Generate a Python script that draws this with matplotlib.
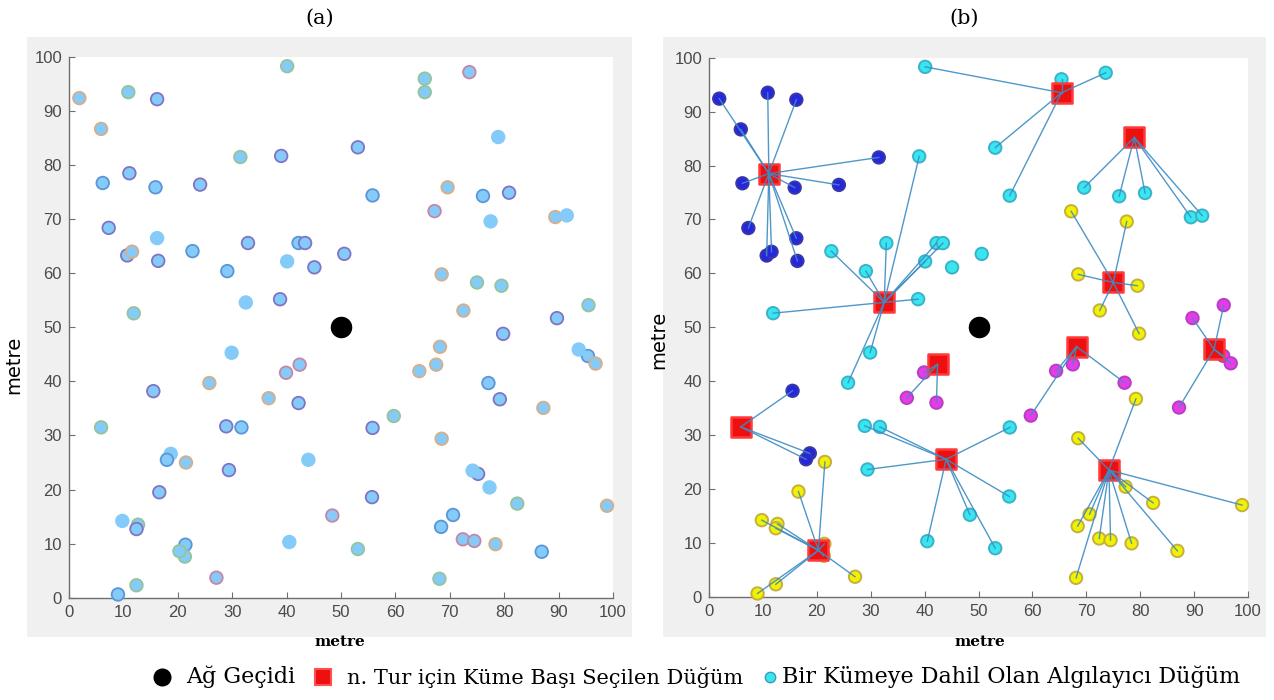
import matplotlib
matplotlib.use('Agg')
import matplotlib.pyplot as plt
from matplotlib.lines import Line2D
from matplotlib.patches import Rectangle

# kume baslari (cluster heads)
ch_x = [11.1, 32.5, 65.4, 78.9, 75.0, 68.2, 93.7, 42.4, 5.9, 20.3, 44.0, 74.2]
ch_y = [78.5, 54.6, 93.5, 85.2, 58.3, 46.4, 45.9, 43.1, 31.5, 8.6, 25.5, 23.5]
ch_grp = ['blue', 'cyan', 'cyan', 'cyan', 'yellow', 'magenta', 'magenta', 'magenta',
          'blue', 'yellow', 'cyan', 'yellow']
ch_edge_a = ['P', 'L', 'G', 'L', 'G', 'O', 'L', 'K', 'G', 'G', 'L', 'L']

# algilayici dugumler (member nodes), head index -1 = no link
mem_x = [1.9, 10.9, 16.2, 5.9, 31.5, 6.2, 15.9, 24.1, 7.3, 16.2, 10.7, 11.6, 16.4,
         39.0, 22.7, 32.9, 42.2, 43.4, 40.1, 29.1, 38.8, 11.9, 29.9, 25.8,
         40.1, 65.4, 73.6, 53.1, 55.8,
         69.6, 76.1, 80.9, 89.4, 91.5,
         67.2, 77.5, 68.5, 79.5, 72.5, 79.8,
         67.5, 64.4, 77.1, 59.7,
         95.4, 96.8, 87.2, 89.7, 95.5,
         39.9, 36.7, 42.2,
         15.5, 18.7, 18.0,
         21.5, 16.6, 9.8, 12.7, 12.4, 21.4, 21.3, 27.1, 12.4, 9.0,
         28.9, 31.7, 29.4, 40.5, 48.4, 53.1, 55.8, 55.7,
         68.5, 79.2, 75.2, 77.3, 82.4, 98.9, 70.6, 68.4, 72.4, 74.5, 78.4, 86.9, 68.1,
         45.1, 50.6]
mem_y = [92.4, 93.5, 92.2, 86.7, 81.5, 76.7, 75.9, 76.4, 68.4, 66.5, 63.3, 64.0, 62.3,
         81.7, 64.1, 65.6, 65.6, 65.6, 62.2, 60.4, 55.2, 52.6, 45.3, 39.7,
         98.3, 96.0, 97.2, 83.3, 74.4,
         75.9, 74.3, 74.9, 70.4, 70.7,
         71.5, 69.6, 59.8, 57.7, 53.1, 48.8,
         43.1, 41.9, 39.7, 33.6,
         44.7, 43.3, 35.1, 51.7, 54.1,
         41.6, 36.9, 36.0,
         38.2, 26.6, 25.5,
         25.0, 19.5, 14.2, 13.5, 12.7, 9.8, 7.6, 3.7, 2.3, 0.6,
         31.7, 31.5, 23.6, 10.3, 15.2, 9.0, 31.4, 18.6,
         29.4, 36.7, 22.9, 20.4, 17.4, 17.0, 15.3, 13.1, 10.8, 10.5, 9.9, 8.5, 3.5,
         61.1, 63.6]
mem_ch = [0] * 13 + [1] * 11 + [2] * 5 + [3] * 5 + [4] * 6 + [5] * 4 + [6] * 5 + \
         [7] * 3 + [8] * 3 + [9] * 10 + [10] * 8 + [11] * 13 + [-1, -1]
mem_edge_a = ['O', 'G', 'P', 'O', 'G', 'B', 'B', 'P', 'P', 'L', 'P', 'O', 'P',
              'P', 'B', 'P', 'B', 'P', 'L', 'B', 'P', 'G', 'L', 'O',
              'G', 'G', 'K', 'P', 'B',
              'O', 'B', 'P', 'O', 'L',
              'K', 'L', 'O', 'G', 'O', 'P',
              'O', 'O', 'B', 'G',
              'B', 'O', 'O', 'P', 'G',
              'K', 'O', 'P',
              'P', 'L', 'B',
              'O', 'P', 'L', 'G', 'P', 'B', 'G', 'K', 'G', 'B',
              'P', 'B', 'P', 'L', 'K', 'G', 'P', 'P',
              'O', 'P', 'P', 'L', 'G', 'O', 'B', 'B', 'K', 'K', 'O', 'B', 'G',
              'P', 'P']

gw_x, gw_y = [50.0], [50.0]

legend_labels = ['Ağ Geçidi', 'n. Tur için Küme Başı Seçilen Düğüm',
                 'Bir Kümeye Dahil Olan Algılayıcı Düğüm']

# renkler
face_a = '#84cbf9'
edge_a = {'P': '#8074c4', 'B': '#5a96d8', 'G': '#96c49a', 'O': '#d8ae88',
          'K': '#c886a6', 'L': '#84cbf9'}
grp_face = {'blue': '#2626dc', 'cyan': '#38e6f0', 'yellow': '#f2f200', 'magenta': '#e83be8'}
grp_edge = {'blue': '#3838a8', 'cyan': '#3cb2c8', 'yellow': '#c4b040', 'magenta': '#b440c4'}
line_col = '#3d8cc4'

W, H = 1274, 700
fig = plt.figure(figsize=(W / 100, H / 100), dpi=100)

# gri cerceveler
for x0, x1 in [(27, 632), (663, 1266)]:
    fig.add_artist(Rectangle((x0 / W, 1 - 637 / H), (x1 - x0) / W, 600 / H,
                             transform=fig.transFigure, facecolor='#f0f0f0',
                             edgecolor='none', zorder=0))

ax1 = fig.add_axes([69 / W, 1 - 597.7 / H, 544 / W, 540.7 / H])
ax2 = fig.add_axes([709 / W, 1 - 596.7 / H, 539 / W, 539 / H])

all_x = mem_x + ch_x
all_y = mem_y + ch_y
all_edge = [edge_a[e] for e in mem_edge_a + ch_edge_a]

# (a)
ax1.scatter(all_x, all_y, s=82, facecolors=face_a, edgecolors=all_edge,
            linewidths=1.3, zorder=3, clip_on=False)
ax1.scatter(gw_x, gw_y, s=210, color='black', zorder=4)

# (b)
for i in range(len(mem_x)):
    c = mem_ch[i]
    if c >= 0:
        ax2.plot([mem_x[i], ch_x[c]], [mem_y[i], ch_y[c]], color=line_col,
                 lw=1.0, alpha=0.9, zorder=5)
mem_grp = [ch_grp[c] if c >= 0 else 'cyan' for c in mem_ch]
ax2.scatter(mem_x, mem_y, s=80, facecolors=[grp_face[g] for g in mem_grp],
            edgecolors=[grp_edge[g] for g in mem_grp], linewidths=1.4, zorder=3,
            clip_on=False)
ax2.scatter(ch_x, ch_y, s=80, facecolors=[grp_face[g] for g in ch_grp], zorder=3)
ax2.scatter(ch_x, ch_y, marker='s', s=220, facecolor='#ee1010', edgecolor='#ff3a3a',
            linewidths=1.8, zorder=4)
ax2.scatter(gw_x, gw_y, s=210, color='black', zorder=4)

for ax in (ax1, ax2):
    ax.set_xlim(0, 100)
    ax.set_ylim(0, 100)
    ax.set_xticks(range(0, 101, 10))
    ax.set_yticks(range(0, 101, 10))
    ax.spines['top'].set_visible(False)
    ax.spines['right'].set_visible(False)
    for s in ('left', 'bottom'):
        ax.spines[s].set_color('#6e6e6e')
        ax.spines[s].set_linewidth(1.0)
    ax.tick_params(direction='in', length=4, color='#6e6e6e', labelcolor='#4a4a4a',
                   labelsize=12, pad=5)
    for lab in ax.get_xticklabels() + ax.get_yticklabels():
        lab.set_family('Liberation Sans')

serif = 'DejaVu Serif'
fig.text(320 / W, 1 - 18 / H, '(a)', ha='center', va='center', fontsize=15, family=serif)
fig.text(964 / W, 1 - 18 / H, '(b)', ha='center', va='center', fontsize=15, family=serif)
fig.text(340 / W, 1 - 642 / H, 'metre', ha='center', va='center', fontsize=11,
         family=serif, weight='bold')
fig.text(980 / W, 1 - 642 / H, 'metre', ha='center', va='center', fontsize=11,
         family=serif, weight='bold')
fig.text(14 / W, 1 - 365 / H, 'metre', rotation=90, ha='center', va='center', fontsize=14)
fig.text(659 / W, 1 - 340 / H, 'metre', rotation=90, ha='center', va='center', fontsize=14)

# alt aciklama (legend), elle yerlestirildi
ly = 1 - 677 / H
leg_marks = [
    dict(marker='o', ms=12, markerfacecolor='black', markeredgecolor='black'),
    dict(marker='s', ms=12, markerfacecolor='#ee1010', markeredgecolor='#ff5050',
         markeredgewidth=1.5),
    dict(marker='o', ms=7.5, markerfacecolor='#38e6f0', markeredgecolor='#3c9ab8'),
]
mark_px = [162, 323, 770]
text_px = [186, 347, 782]
text_fs = [16, 15, 16]
for m, mx, tx, fs, lab in zip(leg_marks, mark_px, text_px, text_fs, legend_labels):
    fig.add_artist(Line2D([mx / W], [ly], transform=fig.transFigure, ls='none', **m))
    fig.text(tx / W, ly, lab, ha='left', va='center', fontsize=fs, family=serif)

fig.savefig('out.png', dpi=100, facecolor='white')
